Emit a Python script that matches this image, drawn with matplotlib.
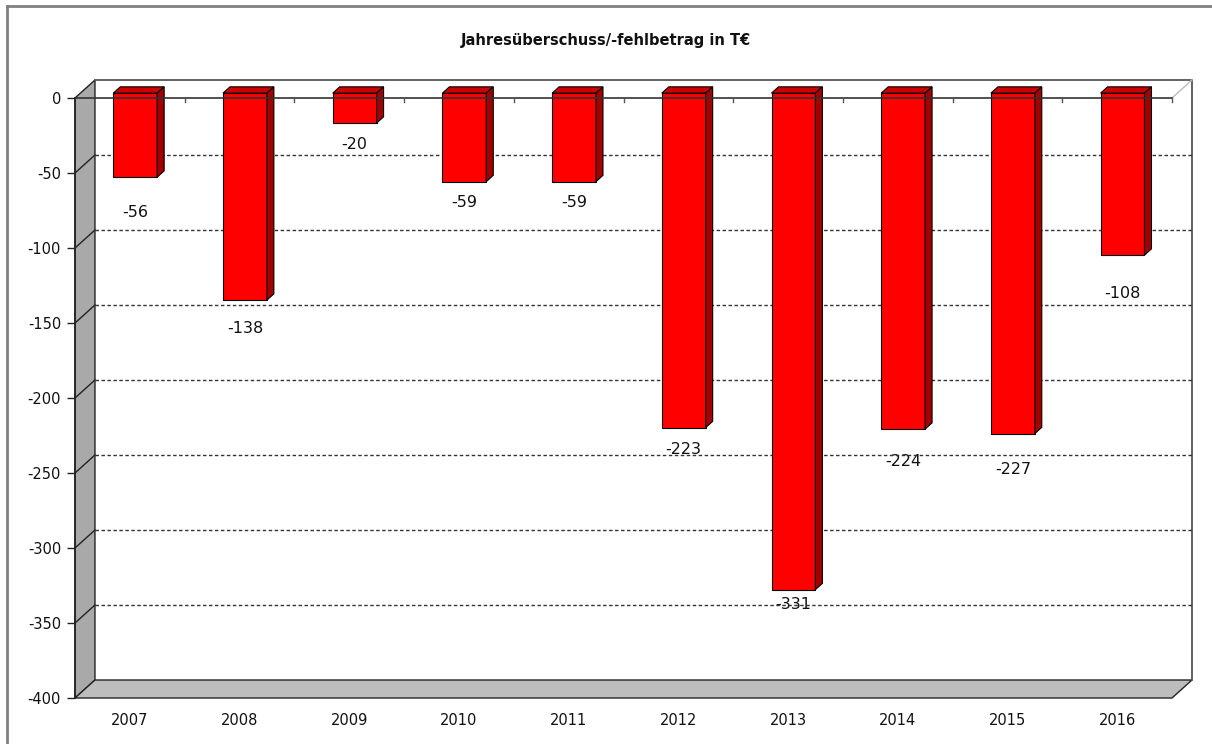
import matplotlib
matplotlib.use("Agg")
import matplotlib.pyplot as plt
from matplotlib.patches import Polygon
from matplotlib.lines import Line2D
import numpy as np

# data
years = ["2007", "2008", "2009", "2010", "2011", "2012", "2013", "2014", "2015", "2016"]
values = [-56, -138, -20, -59, -59, -223, -331, -224, -227, -108]
y_ticks = [0, -50, -100, -150, -200, -250, -300, -350, -400]
title = "Jahresüberschuss/-fehlbetrag in T€"

# style
label_gap = [35, 28, 21, 21, 21, 22, 15, 32, 36, 38]   # px below bar end, as in the original
W, H = 1212, 744
ddx, ddy = 0.182, 12.0       # depth of the 3d box in data units
f0, f1 = 0.27, 0.62          # bar front/back depth fraction
bw = 0.4

fig = plt.figure(figsize=(W / 100, H / 100), dpi=100)
ax = fig.add_axes([75 / W, (H - 698) / H, (1172 - 75) / W, 600 / H])
ax.set_xlim(-0.5, len(years) - 0.5)
ax.set_ylim(-400, 0)
for s in ax.spines.values():
    s.set_visible(False)

x = np.arange(len(years))
x0, x1 = -0.5, len(years) - 0.5
ymin = -400

# walls
left_wall = Polygon([(x0, 0), (x0 + ddx, ddy), (x0 + ddx, ymin + ddy), (x0, ymin)],
                    closed=True, fc="#a9a9a9", ec="#222222", lw=1, clip_on=False, zorder=1)
floor = Polygon([(x0, ymin), (x1, ymin), (x1 + ddx, ymin + ddy), (x0 + ddx, ymin + ddy)],
                closed=True, fc="#bdbdbd", ec="#222222", lw=1, clip_on=False, zorder=1)
ax.add_patch(left_wall)
ax.add_patch(floor)
ax.plot([x0 + ddx, x1 + ddx, x1 + ddx], [ddy, ddy, ymin + ddy], color="#555555", lw=1.3,
        clip_on=False, zorder=1)
ax.plot([x1, x1 + ddx], [0, ddy], color="#bbbbbb", lw=1, clip_on=False, zorder=1)

# grid on back wall and diagonals on the side wall
for t in y_ticks[1:-1]:
    ax.plot([x0 + ddx, x1 + ddx], [t + ddy, t + ddy], color="#333333", lw=1,
            ls=(0, (2.5, 1.8)), clip_on=False, zorder=5)
    ax.plot([x0, x0 + ddx], [t, t + ddy], color="#222222", lw=1, clip_on=False, zorder=2)

# bars
xf = x + f0 * ddx
bars = ax.bar(xf, values, bottom=f0 * ddy, width=bw, color="#ff0000", ec="black",
              lw=0.8, zorder=6, clip_on=False)
dd = (f1 - f0)
for xi, v in zip(xf, values):
    l, r = xi - bw / 2, xi + bw / 2
    yt, yb = f0 * ddy, v + f0 * ddy
    top = Polygon([(l, yt), (r, yt), (r + dd * ddx, yt + dd * ddy), (l + dd * ddx, yt + dd * ddy)],
                  closed=True, fc="#cc0000", ec="black", lw=0.8, clip_on=False, zorder=6)
    side = Polygon([(r, yt), (r + dd * ddx, yt + dd * ddy), (r + dd * ddx, yb + dd * ddy), (r, yb)],
                   closed=True, fc="#a30000", ec="black", lw=0.8, clip_on=False, zorder=6)
    ax.add_patch(top)
    ax.add_patch(side)

# zero line with category ticks
ax.plot([x0, x1], [0, 0], color="#333333", lw=1.2, zorder=7, clip_on=False)
for b in np.arange(0.5, len(years), 1.0):
    ax.plot([b, b], [0, -2.7], color="#555555", lw=1, zorder=7, clip_on=False)
ax.plot([x0, x0], [0, ymin], color="#222222", lw=1.2, zorder=7, clip_on=False)

# value labels (drawn under the grid lines, like the original)
for xi, v, g in zip(xf, values, label_gap):
    ax.annotate(str(v), (xi, v + f0 * ddy), xytext=(0, -g), textcoords="offset pixels",
                ha="center", va="center", fontsize=11.5, color="#111111", zorder=4)

ax.set_yticks(y_ticks)
ax.set_yticklabels([str(t) for t in y_ticks], fontsize=10.5, color="#111111")
ax.tick_params(axis="y", length=6, width=1, color="#222222", pad=4)
ax.set_xticks(x)
ax.set_xticklabels(years, fontsize=10.5, color="#111111")
ax.tick_params(axis="x", length=0, pad=11)

fig.text(606 / W, 1 - 40 / H, title, ha="center", va="center", fontsize=10.5,
         fontweight="bold", family="DejaVu Sans", color="#111111")

# outer frame (left and top only visible)
fig.add_artist(Line2D([7 / W, 7 / W], [0, 1 - 6 / H], color="#808080", lw=2))
fig.add_artist(Line2D([7 / W, 1], [1 - 6 / H, 1 - 6 / H], color="#808080", lw=2))

fig.savefig("out.png", dpi=100)
